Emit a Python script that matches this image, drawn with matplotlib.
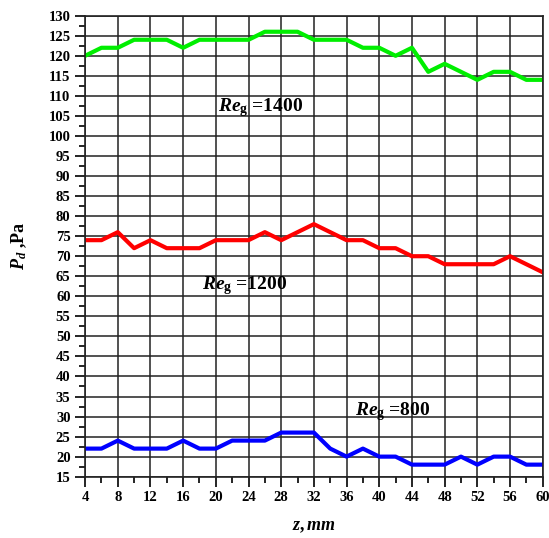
import numpy as np
import matplotlib
matplotlib.use("Agg")
import matplotlib.pyplot as plt
from matplotlib.ticker import MultipleLocator

plt.rcParams['font.family'] = 'Liberation Serif'
plt.rcParams['font.weight'] = 'bold'
plt.rcParams['axes.labelweight'] = 'bold'
plt.rcParams['mathtext.fontset'] = 'custom'
plt.rcParams['mathtext.rm'] = 'Liberation Serif:bold'
plt.rcParams['mathtext.it'] = 'Liberation Serif:italic:bold'
plt.rcParams['mathtext.bf'] = 'Liberation Serif:bold'

# distance along the channel, mm
z = np.arange(4, 61, 2)

# dynamic pressure, Pa
p_1400 = [120, 122, 122, 124, 124, 124, 122, 124, 124, 124, 124, 126, 126, 126, 124,
          124, 124, 122, 122, 120, 122, 116, 118, 116, 114, 116, 116, 114, 114]
p_1200 = [74, 74, 76, 72, 74, 72, 72, 72, 74, 74, 74, 76, 74, 76, 78,
          76, 74, 74, 72, 72, 70, 70, 68, 68, 68, 68, 70, 68, 66]
p_800 = [22, 22, 24, 22, 22, 22, 24, 22, 22, 24, 24, 24, 26, 26, 26,
         22, 20, 22, 20, 20, 18, 18, 18, 20, 18, 20, 20, 18, 18]

fig, ax = plt.subplots(figsize=(5.49, 5.38), dpi=100)
fig.subplots_adjust(left=0.155, right=0.9885, top=0.9708, bottom=0.114)

ax.plot(z, p_1400, color='#00ee00', lw=3)
ax.plot(z, p_1200, color='#ff0000', lw=3)
ax.plot(z, p_800, color='#0000ff', lw=3)

ax.set_xlim(4, 60)
ax.set_ylim(15, 130)
ax.xaxis.set_major_locator(MultipleLocator(4))
ax.xaxis.set_minor_locator(MultipleLocator(2))
ax.yaxis.set_major_locator(MultipleLocator(5))
ax.yaxis.set_minor_locator(MultipleLocator(2.5))
ax.grid(True, which='major', color='#222222', lw=1.1)
ax.tick_params(which='major', direction='out', length=7, width=1.2, labelsize=10.5)
ax.tick_params(which='minor', direction='out', length=4, width=1.2)
for s in ax.spines.values():
    s.set_color('#222222')
    s.set_linewidth(1.2)
ax.set_axisbelow(True)

ax.text(20.3, 107.2, r'$\mathit{Re}_{\mathrm{g}}$ =1400', fontsize=14, va='center')
ax.text(18.3, 62.8, r'$\mathit{Re}_{\mathrm{g}}$ =1200', fontsize=14, va='center')
ax.text(37.0, 31.2, r'$\mathit{Re}_{\mathrm{g}}$ =800', fontsize=14, va='center')

ax.set_xlabel(r'$\mathit{z}$$\mathit{, mm}$', fontsize=13, labelpad=10)
ax.set_ylabel(r'$\mathit{P}_{\mathit{d}}$ ,Pa', fontsize=13, labelpad=14)

fig.savefig('out.png', dpi=100)
